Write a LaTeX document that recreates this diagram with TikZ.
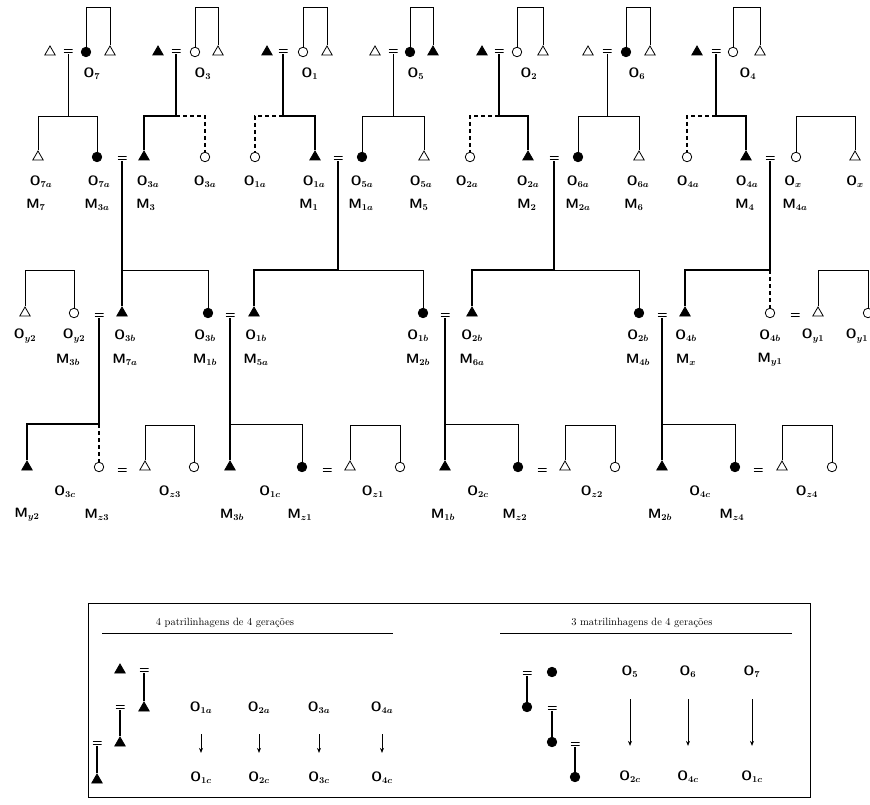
\documentclass[tikz,border=0pt]{standalone}
\usetikzlibrary{shapes.geometric,arrows.meta}
\newcommand{\lO}[1]{O$_{#1}$}
\newcommand{\lM}[1]{M$_{#1}$}
\begin{document}
\begin{tikzpicture}[x=1pt,y=-1pt,
  tri/.style={regular polygon,regular polygon sides=3,draw,line width=0.8pt,inner sep=0pt,minimum size=12pt,fill=white},
  ftri/.style={tri,fill=black},
  cir/.style={circle,draw,line width=0.8pt,inner sep=0pt,minimum size=9.5pt,fill=white},
  fcir/.style={cir,fill=black},
  eq/.style={minimum width=9pt,minimum height=6pt,inner sep=0pt,
    path picture={\draw[line width=1.1pt]
      ([yshift=1.6pt]path picture bounding box.west) -- ([yshift=1.6pt]path picture bounding box.east)
      ([yshift=-1.6pt]path picture bounding box.west) -- ([yshift=-1.6pt]path picture bounding box.east);}},
  kin/.style={line width=0.9pt},
  thk/.style={line width=2.8pt},
  dsh/.style={line width=1.4pt,dash pattern=on 4pt off 3pt},
  lab/.style={font=\fontsize{13.5}{13.5}\selectfont\sffamily\bfseries\boldmath,inner sep=0pt},
  ttl/.style={font=\fontsize{10.5}{10.5}\selectfont,inner sep=0pt},
  arr/.style={line width=0.9pt,-{Stealth[length=5pt,width=4pt]}},
]
\useasboundingbox (0,0) rectangle (870,805);

% first generation
\node[tri] (a1l) at (50,52) {};
\node[eq] (a1e) at (68,51) {};
\node[fcir] (a1m) at (86,52) {};
\node[tri] (a1r) at (110,52) {};
\node[lab] (a1n) at (92,74) {\lO{7}};

\node[ftri] (a2l) at (158,52) {};
\node[eq] (a2e) at (176,51) {};
\node[cir] (a2m) at (195,52) {};
\node[tri] (a2r) at (218,52) {};
\node[lab] (a2n) at (203,74) {\lO{3}};

\node[ftri] (a3l) at (267,52) {};
\node[eq] (a3e) at (283,51) {};
\node[cir] (a3m) at (303,52) {};
\node[tri] (a3r) at (327,52) {};
\node[lab] (a3n) at (310,74) {\lO{1}};

\node[tri] (a4l) at (375,52) {};
\node[eq] (a4e) at (393,51) {};
\node[fcir] (a4m) at (410,52) {};
\node[ftri] (a4r) at (433,52) {};
\node[lab] (a4n) at (416,74) {\lO{5}};

\node[ftri] (a5l) at (482,52) {};
\node[eq] (a5e) at (499,51) {};
\node[cir] (a5m) at (517,52) {};
\node[tri] (a5r) at (543,52) {};
\node[lab] (a5n) at (529,74) {\lO{2}};

\node[tri] (a6l) at (588,52) {};
\node[eq] (a6e) at (607,51) {};
\node[fcir] (a6m) at (626,52) {};
\node[tri] (a6r) at (650,52) {};
\node[lab] (a6n) at (637,74) {\lO{6}};

\node[ftri] (a7l) at (697,52) {};
\node[eq] (a7e) at (716,51) {};
\node[cir] (a7m) at (733,52) {};
\node[tri] (a7r) at (760,52) {};
\node[lab] (a7n) at (748,74) {\lO{4}};

\draw[kin] (a1m.north) -- (a1m |- 0,7) -| (a1r.north);
\draw[kin] (a2m.north) -- (a2m |- 0,7) -| (a2r.north);
\draw[kin] (a3m.north) -- (a3m |- 0,7) -| (a3r.north);
\draw[kin] (a4m.north) -- (a4m |- 0,7) -| (a4r.north);
\draw[kin] (a5m.north) -- (a5m |- 0,7) -| (a5r.north);
\draw[kin] (a6m.north) -- (a6m |- 0,7) -| (a6r.north);
\draw[kin] (a7m.north) -- (a7m |- 0,7) -| (a7r.north);

% second generation
\node[tri] (b1l) at (38,157) {};
\node[fcir] (b1r) at (97,157) {};
\node[ftri] (b2l) at (144,157) {};
\node[cir] (b2r) at (205,157) {};
\node[cir] (b3l) at (255,157) {};
\node[ftri] (b3r) at (315,157) {};
\node[fcir] (b4l) at (362,157) {};
\node[tri] (b4r) at (424,157) {};
\node[cir] (b5l) at (470,157) {};
\node[ftri] (b5r) at (528,157) {};
\node[fcir] (b6l) at (578,157) {};
\node[tri] (b6r) at (639,157) {};
\node[cir] (b7l) at (687,157) {};
\node[ftri] (b7r) at (746,157) {};
\node[cir] (b8l) at (796,157) {};
\node[tri] (b8r) at (855,157) {};

\draw[kin] (a1e.south) -- (a1e |- 0,116) -| (b1l.north);
\draw[kin] (a1e |- 0,116) -| (b1r.north);
\draw[thk] (a2e.south) -- (a2e |- 0,116) -| (b2l.north);
\draw[dsh] (a2e |- 0,116) -| (b2r.north);
\draw[thk] (a3e.south) -- (a3e |- 0,116) -| (b3r.north);
\draw[dsh] (a3e |- 0,116) -| (b3l.north);
\draw[kin] (a4e.south) -- (a4e |- 0,116) -| (b4l.north);
\draw[kin] (a4e |- 0,116) -| (b4r.north);
\draw[thk] (a5e.south) -- (a5e |- 0,116) -| (b5r.north);
\draw[dsh] (a5e |- 0,116) -| (b5l.north);
\draw[kin] (a6e.south) -- (a6e |- 0,116) -| (b6l.north);
\draw[kin] (a6e |- 0,116) -| (b6r.north);
\draw[thk] (a7e.south) -- (a7e |- 0,116) -| (b7r.north);
\draw[dsh] (a7e |- 0,116) -| (b7l.north);
\draw[kin] (b8l.north) -- (b8l |- 0,116) -| (b8r.north);

\node[lab] (b1lo) at (41,182) {\lO{7a}};
\node[lab] (b1ro) at (99,182) {\lO{7a}};
\node[lab] (b2lo) at (148,182) {\lO{3a}};
\node[lab] (b2ro) at (205,182) {\lO{3a}};
\node[lab] (b3lo) at (255,182) {\lO{1a}};
\node[lab] (b3ro) at (314,182) {\lO{1a}};
\node[lab] (b4lo) at (362,182) {\lO{5a}};
\node[lab] (b4ro) at (421,182) {\lO{5a}};
\node[lab] (b5lo) at (467,182) {\lO{2a}};
\node[lab] (b5ro) at (528,182) {\lO{2a}};
\node[lab] (b6lo) at (578,182) {\lO{6a}};
\node[lab] (b6ro) at (638,182) {\lO{6a}};
\node[lab] (b7lo) at (688,182) {\lO{4a}};
\node[lab] (b7ro) at (747,182) {\lO{4a}};
\node[lab] (b8lo) at (793,182) {\lO{x}};
\node[lab] (b8ro) at (855,182) {\lO{x}};

\node[lab] (b1lm) at (36,205) {\lM{7}};
\node[lab] (b1rm) at (97,205) {\lM{3a}};
\node[lab] (b2lm) at (146,205) {\lM{3}};
\node[lab] (b3rm) at (309,205) {\lM{1}};
\node[lab] (b4lm) at (361,205) {\lM{1a}};
\node[lab] (b4rm) at (419,205) {\lM{5}};
\node[lab] (b5rm) at (527,205) {\lM{2}};
\node[lab] (b6lm) at (578,205) {\lM{2a}};
\node[lab] (b6rm) at (634,205) {\lM{6}};
\node[lab] (b7rm) at (745,205) {\lM{4}};
\node[lab] (b8lm) at (795,205) {\lM{4a}};

\node[eq] (e21) at (122,158) {};
\node[eq] (e22) at (338,158) {};
\node[eq] (e23) at (554,158) {};
\node[eq] (e24) at (770,158) {};

% third generation
\node[tri] (c0l) at (25,313) {};
\node[cir] (c0r) at (74,313) {};
\node[ftri] (c1l) at (122,313) {};
\node[fcir] (c1r) at (208,313) {};
\node[ftri] (c2l) at (254,313) {};
\node[fcir] (c2r) at (423,313) {};
\node[ftri] (c3l) at (472,313) {};
\node[fcir] (c3r) at (639,313) {};
\node[ftri] (c4l) at (685,313) {};
\node[cir] (c4r) at (770,313) {};
\node[eq] (e35) at (795,315) {};
\node[tri] (c5l) at (818,313) {};
\node[cir] (c5r) at (868,313) {};

\draw[kin] (c0l.north) -- (c0l |- 0,270) -| (c0r.north);
\draw[thk] (e21.south) -- (c1l.north);
\draw[kin] (e21 |- 0,270) -| (c1r.north);
\draw[thk] (e22.south) -- (e22 |- 0,270) -| (c2l.north);
\draw[kin] (e22 |- 0,270) -| (c2r.north);
\draw[thk] (e23.south) -- (e23 |- 0,270) -| (c3l.north);
\draw[kin] (e23 |- 0,270) -| (c3r.north);
\draw[thk] (e24.south) -- (e24 |- 0,270) -| (c4l.north);
\draw[dsh] (e24 |- 0,270) -- (c4r.north);
\draw[kin] (c5l.north) -- (c5l |- 0,270) -| (c5r.north);

\node[lab] (c0lo) at (25,336) {\lO{y2}};
\node[lab] (c0ro) at (74,336) {\lO{y2}};
\node[lab] (c1lo) at (125,336) {\lO{3b}};
\node[lab] (c1ro) at (205,336) {\lO{3b}};
\node[lab] (c2lo) at (256,336) {\lO{1b}};
\node[lab] (c2ro) at (418,336) {\lO{1b}};
\node[lab] (c3lo) at (472,336) {\lO{2b}};
\node[lab] (c3ro) at (638,336) {\lO{2b}};
\node[lab] (c4lo) at (686,336) {\lO{4b}};
\node[lab] (c4ro) at (770,336) {\lO{4b}};
\node[lab] (c5lo) at (813,336) {\lO{y1}};
\node[lab] (c5ro) at (857,336) {\lO{y1}};

\node[lab] (c0rm) at (68,360) {\lM{3b}};
\node[lab] (c1lm) at (125,360) {\lM{7a}};
\node[lab] (c1rm) at (205,360) {\lM{1b}};
\node[lab] (c2lm) at (256,360) {\lM{5a}};
\node[lab] (c2rm) at (418,360) {\lM{2b}};
\node[lab] (c3lm) at (472,360) {\lM{6a}};
\node[lab] (c3rm) at (638,360) {\lM{4b}};
\node[lab] (c4lm) at (686,360) {\lM{x}};
\node[lab] (c4rm) at (770,360) {\lM{y1}};

\node[eq] (e31) at (99,315) {};
\node[eq] (e32) at (230,315) {};
\node[eq] (e33) at (445,315) {};
\node[eq] (e34) at (662,315) {};

% fourth generation
\node[ftri] (d1l) at (27,467) {};
\node[cir] (d1r) at (99,467) {};
\node[eq] (e41) at (122,470) {};
\node[tri] (d1a) at (145,467) {};
\node[cir] (d1b) at (194,467) {};
\node[ftri] (d2l) at (230,467) {};
\node[fcir] (d2r) at (302,467) {};
\node[eq] (e42) at (327,470) {};
\node[tri] (d2a) at (350,467) {};
\node[cir] (d2b) at (400,467) {};
\node[ftri] (d3l) at (445,467) {};
\node[fcir] (d3r) at (518,467) {};
\node[eq] (e43) at (542,470) {};
\node[tri] (d3a) at (565,467) {};
\node[cir] (d3b) at (615,467) {};
\node[ftri] (d4l) at (662,467) {};
\node[fcir] (d4r) at (735,467) {};
\node[eq] (e44) at (758,470) {};
\node[tri] (d4a) at (782,467) {};
\node[cir] (d4b) at (832,467) {};

\draw[thk] (e31.south) -- (e31 |- 0,424) -| (d1l.north);
\draw[dsh] (e31 |- 0,424) -- (d1r.north);
\draw[thk] (e32.south) -- (d2l.north);
\draw[kin] (e32 |- 0,424) -| (d2r.north);
\draw[thk] (e33.south) -- (d3l.north);
\draw[kin] (e33 |- 0,424) -| (d3r.north);
\draw[thk] (e34.south) -- (d4l.north);
\draw[kin] (e34 |- 0,424) -| (d4r.north);
\draw[kin] (d1a.north) -- (d1a |- 0,425) -| (d1b.north);
\draw[kin] (d2a.north) -- (d2a |- 0,425) -| (d2b.north);
\draw[kin] (d3a.north) -- (d3a |- 0,425) -| (d3b.north);
\draw[kin] (d4a.north) -- (d4a |- 0,425) -| (d4b.north);

\node[lab] (d1o) at (65,492) {\lO{3c}};
\node[lab] (d1z) at (170,492) {\lO{z3}};
\node[lab] (d2o) at (270,492) {\lO{1c}};
\node[lab] (d2z) at (373,492) {\lO{z1}};
\node[lab] (d3o) at (478,492) {\lO{2c}};
\node[lab] (d3z) at (592,492) {\lO{z2}};
\node[lab] (d4o) at (700,492) {\lO{4c}};
\node[lab] (d4z) at (807,492) {\lO{z4}};

\node[lab] (d1lm) at (27,515) {\lM{y2}};
\node[lab] (d1rm) at (97,515) {\lM{z3}};
\node[lab] (d2lm) at (232,515) {\lM{3b}};
\node[lab] (d2rm) at (300,515) {\lM{z1}};
\node[lab] (d3lm) at (443,515) {\lM{1b}};
\node[lab] (d3rm) at (515,515) {\lM{z2}};
\node[lab] (d4lm) at (660,515) {\lM{2b}};
\node[lab] (d4rm) at (732,515) {\lM{z4}};

% legend
\draw[line width=0.9pt] (88,603) rectangle (810,797);
\node[ttl] (pt) at (225,623) {4 patrilinhagens de 4 gerações};
\draw[kin] (102,633) -- (393,633);
\node[ttl] (mt) at (642,623) {3 matrilinhagens de 4 gerações};
\draw[kin] (500,633) -- (792,633);

\node[ftri] (p0) at (120,670) {};
\node[eq] (p1e) at (144,670) {};
\node[ftri] (p1t) at (144,708) {};
\node[eq] (p2e) at (120,707) {};
\node[ftri] (p2t) at (120,743) {};
\node[eq] (p3e) at (97,743) {};
\node[ftri] (p3t) at (97,780) {};
\draw[thk] (p1e.south) -- (p1t.north);
\draw[thk] (p2e.south) -- (p2t.north);
\draw[thk] (p3e.south) -- (p3t.north);

\node[lab] (q1a) at (201,708) {\lO{1a}};
\node[lab] (q2a) at (259,708) {\lO{2a}};
\node[lab] (q3a) at (319,708) {\lO{3a}};
\node[lab] (q4a) at (382,708) {\lO{4a}};
\node[lab] (q1c) at (201,778) {\lO{1c}};
\node[lab] (q2c) at (259,778) {\lO{2c}};
\node[lab] (q3c) at (319,778) {\lO{3c}};
\node[lab] (q4c) at (382,778) {\lO{4c}};
\draw[arr,shorten <=20pt,shorten >=19pt] (q1a) -- (q1c);
\draw[arr,shorten <=20pt,shorten >=19pt] (q2a) -- (q2c);
\draw[arr,shorten <=20pt,shorten >=19pt] (q3a) -- (q3c);
\draw[arr,shorten <=20pt,shorten >=19pt] (q4a) -- (q4c);

\node[fcir] (r0) at (552,672) {};
\node[eq] (r1e) at (527,673) {};
\node[fcir] (r1c) at (527,707) {};
\node[eq] (r2e) at (552,708) {};
\node[fcir] (r2c) at (552,742) {};
\node[eq] (r3e) at (575,744) {};
\node[fcir] (r3c) at (575,777) {};
\draw[line width=1.6pt] (r1e.south) -- (r1c.north);
\draw[line width=1.6pt] (r2e.south) -- (r2c.north);
\draw[line width=1.6pt] (r3e.south) -- (r3c.north);

\node[lab] (s5) at (630,672) {\lO{5}};
\node[lab] (s6) at (688,672) {\lO{6}};
\node[lab] (s7) at (752,672) {\lO{7}};
\node[lab] (s5c) at (630,777) {\lO{2c}};
\node[lab] (s6c) at (688,777) {\lO{4c}};
\node[lab] (s7c) at (752,777) {\lO{1c}};
\draw[arr,shorten <=21pt,shorten >=25pt] (s5) -- (s5c);
\draw[arr,shorten <=21pt,shorten >=25pt] (s6) -- (s6c);
\draw[arr,shorten <=21pt,shorten >=25pt] (s7) -- (s7c);
\end{tikzpicture}
\end{document}
